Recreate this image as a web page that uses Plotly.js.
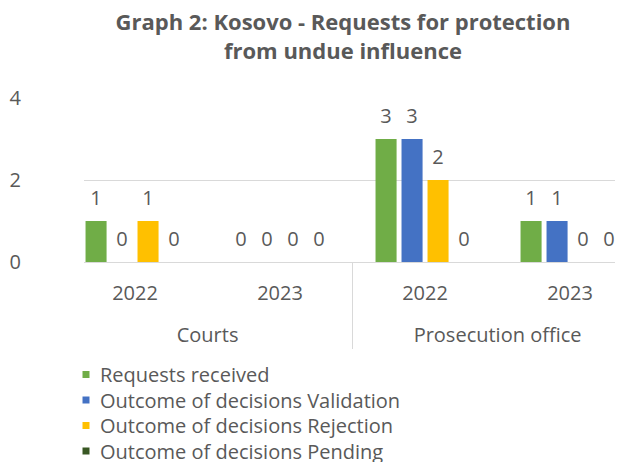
<!DOCTYPE html>
<html>
<head>
<meta charset="utf-8">
<script src="https://cdn.plot.ly/plotly-3.0.1.min.js"></script>
<style>html,body{margin:0;padding:0;background:#fff;}</style>
</head>
<body>
<div id="chart" style="width:634px;height:462px;"></div>
<script>
const institutions = ['Courts', 'Courts', 'Prosecution office', 'Prosecution office'];
const years = ['2022', '2023', '2022', '2023'];
const seriesNames = ['Requests received', 'Outcome of decisions Validation', 'Outcome of decisions Rejection', 'Outcome of decisions Pending'];
const requestsReceived = [1, 0, 3, 1];
const validation = [0, 0, 3, 1];
const rejection = [1, 0, 2, 0];
const pending = [0, 0, 0, 0];
const seriesValues = [requestsReceived, validation, rejection, pending];
const seriesColors = ['#70AD47', '#4472C4', '#FFC000', '#385723'];
const yTicks = [0, 2, 4];
const titleText = 'Graph 2: Kosovo - Requests for protection<br>from undue influence';

const FONT = '"Open Sans", "Noto Sans", sans-serif';
const GREY = '#595959';
const FS = 20;

const traces = seriesNames.map((name, i) => ({
  type: 'bar',
  name: name,
  x: [institutions, years],
  y: seriesValues[i],
  marker: {color: seriesColors[i]},
  text: seriesValues[i].map(String),
  textposition: 'outside',
  constraintext: 'none',
  cliponaxis: false,
  textfont: {family: FONT, size: FS, color: GREY},
  hoverinfo: 'none'
}));

const yearAlias = {};
years.forEach(y => { yearAlias[y] = y + '<br> '; });

const layout = {
  width: 634, height: 462,
  margin: {l: 84, r: 19, t: 98, b: 200, autoexpand: false},
  paper_bgcolor: '#fff', plot_bgcolor: '#fff',
  font: {family: FONT, color: GREY, size: FS},
  title: {
    text: titleText,
    font: {family: FONT, size: 22, color: GREY, weight: 'bold'},
    x: 0.541, xanchor: 'center', xref: 'container',
    y: 0.935, yanchor: 'top', yref: 'container'
  },
  barmode: 'group',
  bargap: 0.283,
  bargroupgap: 0.19,
  xaxis: {
    type: 'multicategory',
    automargin: false,
    range: [-0.352, 3.31],
    showline: true, linecolor: '#d9d9d9', linewidth: 1,
    showgrid: false,
    ticks: '',
    ticklabelstandoff: 13,
    showdividers: true, dividercolor: '#d9d9d9', dividerwidth: 1,
    tickfont: {family: FONT, size: FS, color: GREY},
    tickangle: 0,
    labelalias: yearAlias
  },
  yaxis: {
    automargin: false,
    range: [0, 4],
    tickvals: yTicks,
    showgrid: true, gridcolor: '#d9d9d9', gridwidth: 1,
    zeroline: false, showline: false,
    ticks: 'outside', ticklen: 58, tickcolor: 'rgba(0,0,0,0)',
    tickfont: {family: FONT, size: FS, color: GREY}
  },
  showlegend: true,
  legend: {
    orientation: 'v',
    xref: 'container', yref: 'container',
    x: 60 / 634, xanchor: 'left',
    y: 1 - 355 / 462, yanchor: 'top',
    font: {family: FONT, size: FS, color: GREY},
    bgcolor: 'rgba(0,0,0,0)',
    tracegroupgap: 0,
    itemclick: false
  }
};

Plotly.newPlot('chart', traces, layout, {staticPlot: true}).then(() => {
  document.querySelectorAll('#chart .legendpoints path').forEach(p => {
    p.setAttribute('d', 'M2.5,-3.5H9.5V3.5H2.5Z');
    p.style.strokeWidth = '0px';
  });
  const items = document.querySelectorAll('#chart .legend .traces');
  let y0 = null;
  items.forEach((g, i) => {
    const m = /translate\(([-\d.]+)[ ,]+([-\d.]+)\)/.exec(g.getAttribute('transform') || '');
    if (!m) return;
    if (y0 === null) y0 = parseFloat(m[2]);
    g.setAttribute('transform', 'translate(' + m[1] + ',' + (y0 + i * 25.5) + ')');
  });
  document.querySelectorAll('#chart text.bartext').forEach(t => {
    const tr = t.getAttribute('transform') || '';
    t.setAttribute('transform', 'translate(0,-7) ' + tr);
  });
});
</script>
</body>
</html>
